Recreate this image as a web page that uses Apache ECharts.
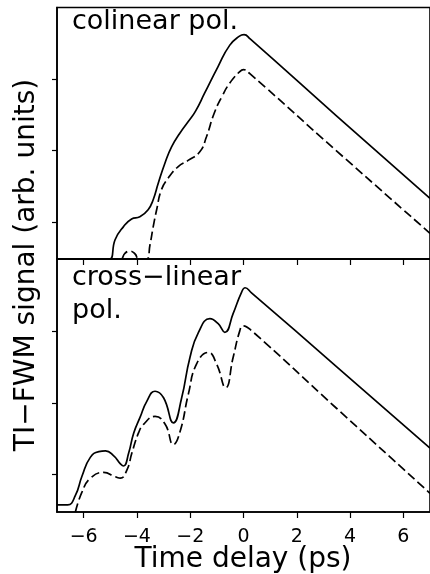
<!DOCTYPE html>
<html>
<head>
<meta charset="utf-8">
<script src="https://cdn.jsdelivr.net/npm/echarts@6/dist/echarts.min.js"></script>
<style>
  html, body { margin: 0; padding: 0; background: #fff; }
  #chart { width: 430px; height: 574px; }
</style>
</head>
<body>
<div id="chart"></div>
<script>
// Time delay (ps) vs. TI-FWM signal, two polarization configurations
const xTicks = [-6, -4, -2, 0, 2, 4, 6];
const yTicks = [1, 2, 3];

// colinear polarization
const colinearSolid = [
  [-7, 0.48], [-5.3, 0.48], [-5.02, 0.48], [-4.82, 0.75], [-4.51, 0.93], [-4.20, 1.04],
  [-3.89, 1.07], [-3.58, 1.17], [-3.39, 1.31], [-3.20, 1.54], [-2.95, 1.82], [-2.70, 2.05],
  [-2.39, 2.24], [-2.08, 2.40], [-1.80, 2.55], [-1.46, 2.80], [-0.96, 3.17], [-0.52, 3.47],
  [-0.15, 3.60], [0.02, 3.62], [0.25, 3.56], [3.5, 2.48], [7, 1.33]
];
const colinearDashed = [
  [-7, 0.48], [-4.62, 0.48], [-4.45, 0.56], [-4.26, 0.59], [-4.07, 0.55], [-3.93, 0.48],
  [-3.64, 0.48], [-3.51, 0.68], [-3.39, 0.93], [-3.26, 1.17], [-3.08, 1.45], [-2.83, 1.61],
  [-2.46, 1.77], [-2.08, 1.86], [-1.64, 1.98], [-1.39, 2.19], [-1.10, 2.52], [-0.80, 2.76],
  [-0.52, 2.94], [-0.15, 3.10], [0.0, 3.13], [0.25, 3.07], [3.5, 1.99], [7, 0.84]
];

// cross-linear polarization
const crossSolid = [
  [-7, 0.58], [-6.6, 0.58], [-6.31, 0.71], [-6.06, 0.98], [-5.75, 1.24], [-5.43, 1.32],
  [-5.18, 1.33], [-4.87, 1.26], [-4.62, 1.15], [-4.50, 1.12], [-4.31, 1.30], [-4.12, 1.58],
  [-3.88, 1.80], [-3.63, 2.02], [-3.32, 2.16], [-3.00, 2.07], [-2.63, 1.72], [-2.32, 2.07],
  [-2.01, 2.63], [-1.69, 2.98], [-1.26, 3.17], [-0.95, 3.10], [-0.70, 2.98], [-0.39, 3.24],
  [-0.07, 3.54], [0.06, 3.60], [0.3, 3.53], [3.5, 2.50], [7, 1.37]
];
const crossDashed = [
  [-6.31, 0.48], [-6.06, 0.76], [-5.75, 0.95], [-5.25, 1.03], [-4.81, 0.97], [-4.62, 0.95],
  [-4.37, 1.07], [-4.19, 1.30], [-3.94, 1.58], [-3.75, 1.70], [-3.32, 1.81], [-2.94, 1.70],
  [-2.63, 1.42], [-2.38, 1.60], [-2.07, 2.12], [-1.76, 2.54], [-1.32, 2.70], [-1.01, 2.54],
  [-0.67, 2.21], [-0.39, 2.63], [-0.14, 3.00], [-0.02, 3.07], [0.25, 3.02], [3.5, 1.92],
  [7, 0.74]
];

const FONT = '"DejaVu Sans", sans-serif';
const INK = '#000';

function xAxisFor(gridIndex, showLabels) {
  return {
    type: 'value', gridIndex, min: -7, max: 7,
    axisLine: { onZero: false, lineStyle: { color: INK, width: 1.6 } },
    axisTick: { show: true, customValues: xTicks, inside: false, length: 6, lineStyle: { color: INK, width: 1.2 } },
    axisLabel: {
      show: showLabels, customValues: xTicks, margin: 16, color: INK, fontSize: 19, fontFamily: FONT,
      formatter: v => (v < 0 ? '\u2212' + Math.abs(v) : String(v))
    },
    splitLine: { show: false }
  };
}
function yAxisFor(gridIndex) {
  return {
    type: 'value', gridIndex, min: 0.48, max: 4,
    axisLine: { show: true, onZero: false, lineStyle: { color: INK, width: 1.6 } },
    axisTick: { show: true, customValues: yTicks, inside: false, length: 5, lineStyle: { color: INK, width: 1.2 } },
    axisLabel: { show: false },
    splitLine: { show: false }
  };
}
function lineSeries(data, axisIndex, dashed) {
  return {
    type: 'line', data, xAxisIndex: axisIndex, yAxisIndex: axisIndex,
    showSymbol: false, smooth: 0.5, animation: false,
    lineStyle: { color: INK, width: 1.7, type: dashed ? [9, 4] : 'solid' }
  };
}

const chart = echarts.init(document.getElementById('chart'), null, { renderer: 'canvas' });
chart.setOption({
  backgroundColor: '#fff',
  animation: false,
  grid: [
    { left: 57, top: 7.5, width: 374, height: 251.5, show: true, borderColor: INK, borderWidth: 1.6, backgroundColor: 'transparent' },
    { left: 57, top: 259, width: 374, height: 253, show: true, borderColor: INK, borderWidth: 1.6, backgroundColor: 'transparent' }
  ],
  xAxis: [xAxisFor(0, false), xAxisFor(1, true)],
  yAxis: [yAxisFor(0), yAxisFor(1)],
  series: [
    lineSeries(colinearSolid, 0, false),
    lineSeries(colinearDashed, 0, true),
    lineSeries(crossSolid, 1, false),
    lineSeries(crossDashed, 1, true)
  ],
  graphic: [
    { type: 'text', x: 72, y: 21.5, style: { text: 'colinear pol.', font: '27px ' + FONT, fill: INK, verticalAlign: 'middle' } },
    { type: 'text', x: 72, y: 277.5, style: { text: 'cross\u2212linear', font: '27px ' + FONT, fill: INK, verticalAlign: 'middle' } },
    { type: 'text', x: 72, y: 311, style: { text: 'pol.', font: '27px ' + FONT, fill: INK, verticalAlign: 'middle' } },
    { type: 'text', x: 243, y: 559.5, style: { text: 'Time delay (ps)', font: '28px ' + FONT, fill: INK, align: 'center', verticalAlign: 'middle' } },
    { type: 'text', x: 27, y: 265, rotation: Math.PI / 2, style: { text: 'TI\u2212FWM signal (arb. units)', font: '28px ' + FONT, fill: INK, align: 'center', verticalAlign: 'middle' } }
  ]
});
</script>
</body>
</html>
